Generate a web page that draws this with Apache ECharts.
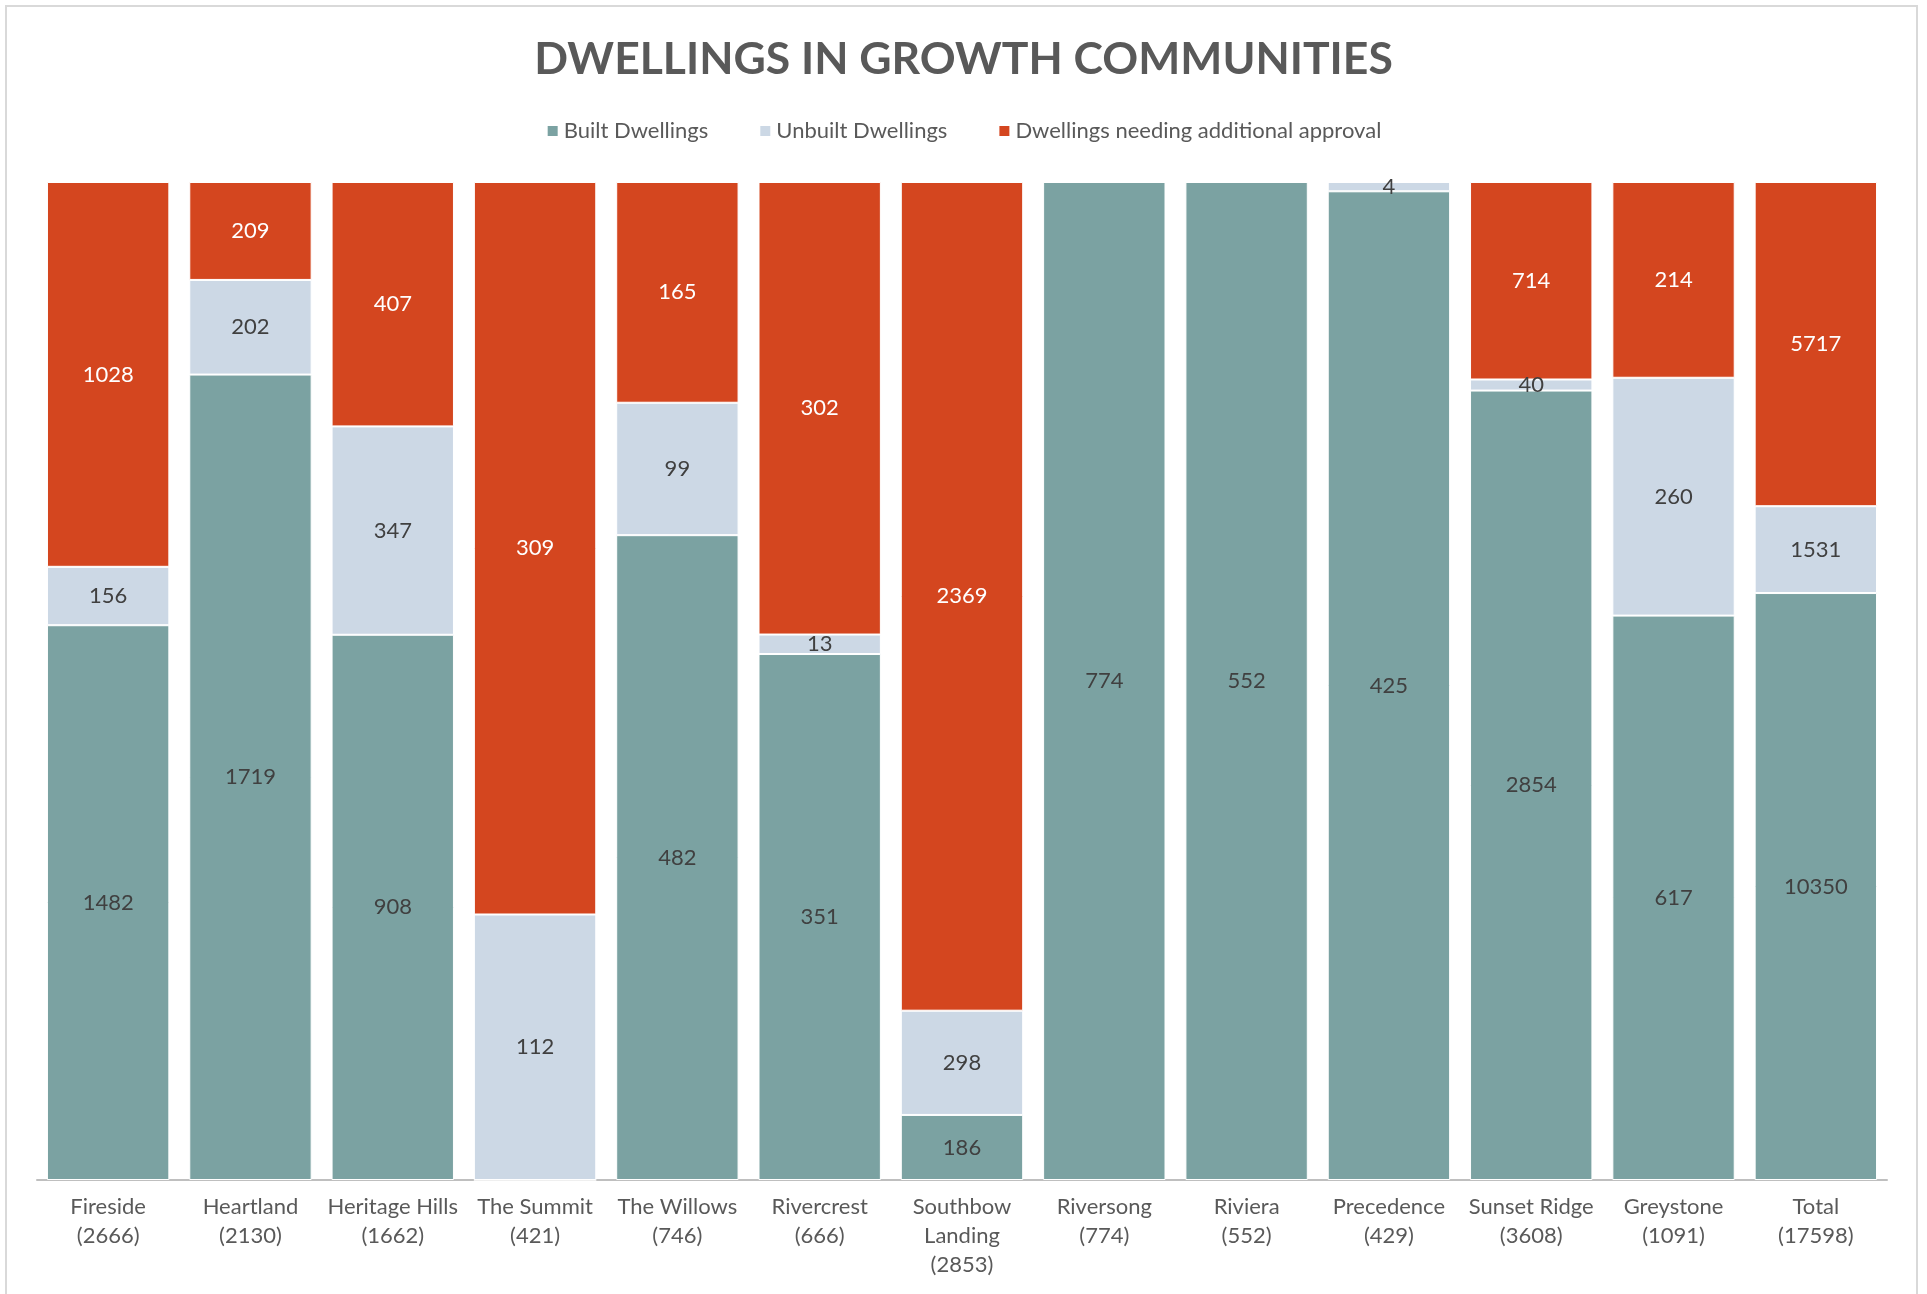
<!DOCTYPE html>
<html>
<head>
<meta charset="utf-8">
<script src="https://cdn.jsdelivr.net/npm/echarts@6/dist/echarts.min.js"></script>
<style>
html,body{margin:0;padding:0;background:#fff;}
#c{width:1927px;height:1294px;}
</style>
</head>
<body>
<div id="c"></div>
<script>
var categories = ['Fireside\n(2666)','Heartland\n(2130)','Heritage Hills\n(1662)','The Summit\n(421)','The Willows\n(746)','Rivercrest\n(666)','Southbow\nLanding\n(2853)','Riversong\n(774)','Riviera\n(552)','Precedence\n(429)','Sunset Ridge\n(3608)','Greystone\n(1091)','Total\n(17598)'];
var built = [1482,1719,908,0,482,351,186,774,552,425,2854,617,10350];
var unbuilt = [156,202,347,112,99,13,298,0,0,4,40,260,1531];
var needing = [1028,209,407,309,165,302,2369,0,0,0,714,214,5717];
var seriesNames = ['Built Dwellings','Unbuilt Dwellings','Dwellings needing additional approval'];
var colors = ['#7BA2A2','#CCD8E5','#D4461F'];

var totals = built.map(function(v,i){return v+unbuilt[i]+needing[i];});
function pct(arr){return arr.map(function(v,i){return {value: v/totals[i]*100, raw: v};});}

var font = 'Lato, "Open Sans", sans-serif';
function mk(name, arr, color, labelColor){
  return {
    name: name, type: 'bar', stack: 'all', barCategoryGap: '14%',
    data: pct(arr),
    itemStyle: {color: color, borderColor: '#fff', borderWidth: 1},
    label: {show: true, position: 'inside', color: labelColor, fontFamily: font, fontSize: 22,
      formatter: function(p){return p.data.raw ? String(p.data.raw) : '';}},
    emphasis: {disabled: true}
  };
}

var chart = echarts.init(document.getElementById('c'), null, {renderer: 'canvas'});
chart.setOption({
  animation: false,
  backgroundColor: '#fff',
  title: {
    text: 'DWELLINGS IN GROWTH COMMUNITIES', left: 'center', top: 32,
    textStyle: {fontFamily: font, fontWeight: 'bold', fontSize: 44.5, color: '#595959'}
  },
  legend: {
    top: 115, left: 'center', itemWidth: 12, itemHeight: 12, itemGap: 50,
    icon: 'rect',
    textStyle: {fontFamily: font, fontSize: 22, color: '#595959'},
    data: seriesNames
  },
  grid: {left: 37, right: 40, top: 182, bottom: 114, containLabel: false},
  xAxis: {
    type: 'category', data: categories,
    axisLine: {lineStyle: {color: '#BFBFBF', width: 2}},
    axisTick: {show: false},
    axisLabel: {fontFamily: font, fontSize: 22, color: '#595959', lineHeight: 29, margin: 12, interval: 0}
  },
  yAxis: {type: 'value', min: 0, max: 100, show: false, splitLine: {show: false}},
  series: [
    mk(seriesNames[0], built, colors[0], '#404040'),
    mk(seriesNames[1], unbuilt, colors[1], '#404040'),
    mk(seriesNames[2], needing, colors[2], '#ffffff')
  ],
  graphic: [{
    type: 'rect', shape: {x: 6, y: 6, width: 1911, height: 1300},
    style: {fill: null, stroke: '#D9D9D9', lineWidth: 2}, silent: true
  }]
});
</script>
</body>
</html>
